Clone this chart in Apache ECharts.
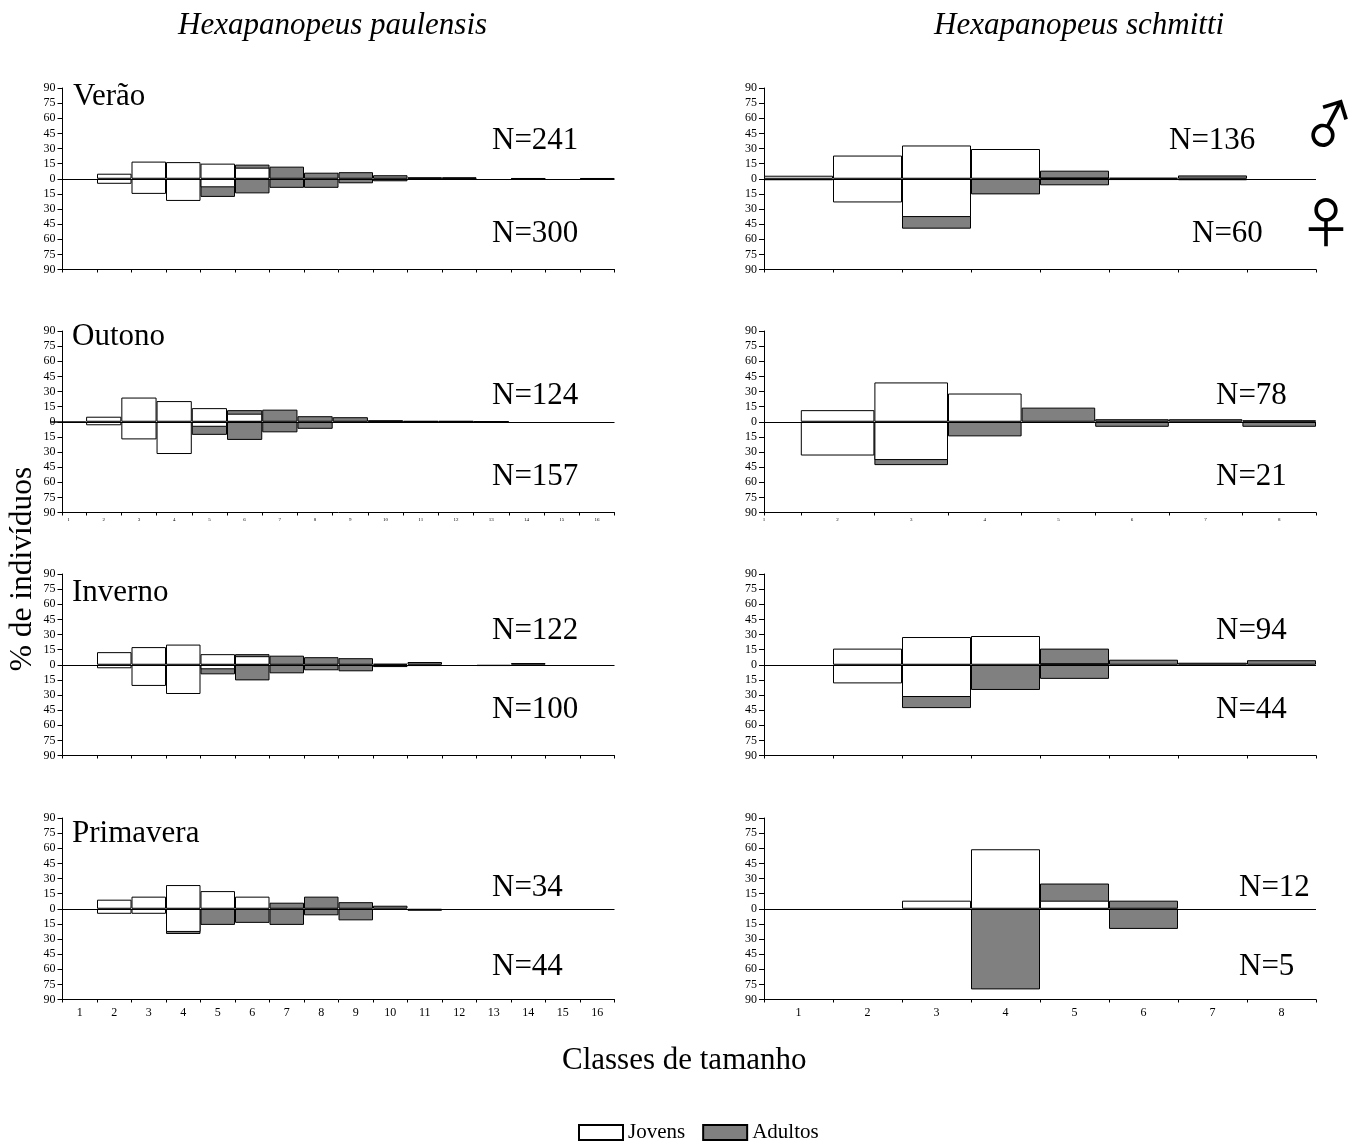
<!DOCTYPE html>
<html><head><meta charset="utf-8">
<style>html,body{margin:0;padding:0;background:#fff}#c{width:1358px;height:1144px}</style>
<script src="https://cdn.jsdelivr.net/npm/echarts@6/dist/echarts.min.js"></script>
</head><body><div id="c"></div>
<script>
// Values: % of individuals per size class; males (up) and females (down), juveniles and adults.
// Hexapanopeus paulensis (classes 1-16)
const pVeraoJM = [0,5,17,16.5,15,11,0,0,0,0,0,0,0,0,0,0];
const pVeraoAM = [0,0,0,0,0,3,12,6,6.5,3.5,1.5,1.5,0,0.5,0,0.5];
const pVeraoJF = [0,5,15,22,8.5,0,0,0,0,0,0,0,0,0,0,0];
const pVeraoAF = [0,0,0,0,9.5,14.5,9,9,4.5,2.5,0.3,0.3,0,0,0,0];
const pOutonoJM = [0,5,24,20.5,13.5,8,0,0,0,0,0,0,0,0,0,0];
const pOutonoAM = [0,0,0,0,0,3.5,12,5.5,4.5,1.5,0.8,0.8,0.3,0,0,0];
const pOutonoJF = [0.5,3.5,17.5,32,5,0,0,0,0,0,0,0,0,0,0,0];
const pOutonoAF = [0,0,0,0,8,18,10.5,7,1,0.3,0.3,0.2,0,0,0,0];
const pInvernoJM = [0,12.5,17.5,20,10.5,8.5,0,0,0,0,0,0,0,0,0,0];
const pInvernoAM = [0,0,0,0,0,2,9,7.5,6.5,1,2.7,0,0,1.7,0,0];
const pInvernoJF = [0,3.5,21,29,4.5,0,0,0,0,0,0,0,0,0,0,0];
const pInvernoAF = [0,0,0,0,5,15.5,8.5,5.5,6.5,2.3,1.3,0,1.3,0,0,0];
const pPrimaveraJM = [0,9,12,23.5,17.5,12,0,0,0,0,0,0,0,0,0,0];
const pPrimaveraAM = [0,0,0,0,0,0,6,12,6.5,3,0,0,0,0,0,0];
const pPrimaveraJF = [0,5,5,23,0,0,0,0,0,0,0,0,0,0,0,0];
const pPrimaveraAF = [0,0,0,2,16,14,16,6.5,11.5,0,2,0,0,0,0,0];
// Hexapanopeus schmitti (classes 1-8)
const sVeraoJM = [3,23,33,29.5,1,0,0,0];
const sVeraoAM = [0,0,0,0,7,1,3.3,0];
const sVeraoJF = [1.5,23.5,38,0,0,0,0,0];
const sVeraoAF = [0,0,11.5,15.5,6.5,1.3,1.5,0];
const sOutonoJM = [0,11.5,39,28,0,0,0,0];
const sOutonoAM = [0,0,0,0,14,2.5,2.5,1.5];
const sOutonoJF = [0,33.5,38,0,0,0,0,0];
const sOutonoAF = [0,0,5,14.5,0,5,0,5];
const sInvernoJM = [0,16,27.5,28.5,1.5,0,0,0];
const sInvernoAM = [0,0,0,0,14.5,5,2,4.5];
const sInvernoJF = [0,18.5,32,0,0,0,0,0];
const sInvernoAF = [0,0,11,25,14,0,0,0];
const sPrimaveraJM = [0,0,8,59,8,0,0,0];
const sPrimaveraAM = [0,0,0,0,17,8,0,0];
const sPrimaveraJF = [0,0,0,0,0,0,0,0];
const sPrimaveraAF = [0,0,0,80,0,20,0,0];

const panels = [
 {col:0,row:0,d:[pVeraoJM,pVeraoAM,pVeraoJF,pVeraoAF],min:0.5,max:16.5,lab:0},
 {col:0,row:1,d:[pOutonoJM,pOutonoAM,pOutonoJF,pOutonoAF],min:0.83,max:16.5,lab:5},
 {col:0,row:2,d:[pInvernoJM,pInvernoAM,pInvernoJF,pInvernoAF],min:0.5,max:16.5,lab:0},
 {col:0,row:3,d:[pPrimaveraJM,pPrimaveraAM,pPrimaveraJF,pPrimaveraAF],min:0.5,max:16.5,lab:12},
 {col:1,row:0,d:[sVeraoJM,sVeraoAM,sVeraoJF,sVeraoAF],min:0.5,max:8.5,lab:0},
 {col:1,row:1,d:[sOutonoJM,sOutonoAM,sOutonoJF,sOutonoAF],min:1,max:8.5,lab:5},
 {col:1,row:2,d:[sInvernoJM,sInvernoAM,sInvernoJF,sInvernoAF],min:0.5,max:8.5,lab:0},
 {col:1,row:3,d:[sPrimaveraJM,sPrimaveraAM,sPrimaveraJF,sPrimaveraAF],min:0.5,max:8.5,lab:12}
];
const gridLefts = [62.5,764], gridWidth = 552;
const gridTops = [88,331,574,818], gridHeight = 181.5;
const FONT = '"Liberation Serif","Times New Roman",serif';
const WHITE = '#ffffff', GRAY = '#808080';

const grid=[], xAxis=[], yAxis=[], series=[];
panels.forEach((p,i)=>{
  grid.push({left:gridLefts[p.col],top:gridTops[p.row],width:gridWidth,height:gridHeight,containLabel:false});
  const n=p.d[0].length;
  const ticks=[p.min]; for(let k=1;k<n;k++){ if(k+0.5>p.min) ticks.push(k+0.5);} ticks.push(p.max);
  const labels=[]; for(let k=1;k<=n;k++) labels.push(k);
  xAxis.push({type:'value',gridIndex:i,min:p.min,max:p.max,
    axisLine:{show:true,onZero:false,lineStyle:{color:'#000',width:1}},
    axisTick:{show:true,length:3,inside:false,customValues:ticks,lineStyle:{color:'#000',width:1}},
    axisLabel:p.lab?{show:true,customValues:labels,fontSize:p.lab,fontFamily:FONT,color:'#000',margin:p.lab>6?7:5,hideOverlap:false}:{show:false},
    splitLine:{show:false}});
  yAxis.push({type:'value',gridIndex:i,min:-90,max:90,interval:15,
    axisLine:{show:true,onZero:false,lineStyle:{color:'#000',width:1}},
    axisTick:{show:true,length:5,lineStyle:{color:'#000',width:1}},
    axisLabel:{fontSize:12,fontFamily:FONT,color:'#000',margin:7,formatter:v=>String(Math.abs(v))},
    splitLine:{show:false}});
  // Adult bars reach the total (juveniles + adults), juveniles are drawn over them from the zero line.
  const [jm,am,jf,af]=p.d;
  const bar=(name,color,values,sign)=>({type:'bar',name,xAxisIndex:i,yAxisIndex:i,barWidth:'100%',barGap:'-100%',
      itemStyle:{color,borderColor:'#000',borderWidth:1},emphasis:{disabled:true},
      data:values.map((v,k)=>[k+1,v?sign*v:null])});
  const s=[
    bar('Adultos',GRAY,am.map((v,k)=>v?v+jm[k]:0),1),
    bar('Jovens',WHITE,jm,1),
    bar('Adultos',GRAY,af.map((v,k)=>v?v+jf[k]:0),-1),
    bar('Jovens',WHITE,jf,-1)
  ];
  s[3].markLine={silent:true,symbol:'none',z:10,animation:false,label:{show:false},
      lineStyle:{color:'#000',width:1,type:'solid'},data:[{yAxis:0}]};
  series.push(...s);
});

const nLabels = [
 ['N=241',492,141],['N=300',492,234],['N=124',492,396],['N=157',492,477],
 ['N=122',492,631],['N=100',492,710],['N=34',492,888],['N=44',492,967],
 ['N=136',1169,141],['N=60',1192,234],['N=78',1216,396],['N=21',1216,477],
 ['N=94',1216,631],['N=44',1216,710],['N=12',1239,888],['N=5',1239,967]
];
const seasons = [['Verão',73,97],['Outono',72,337],['Inverno',72,593],['Primavera',72,834]];
const txt=(t,x,y,size,extra)=>({type:'text',x,y,silent:true,z:20,
  style:Object.assign({text:t,fill:'#000',font:`${size}px ${FONT}`,align:'left',verticalAlign:'middle'},extra||{})});
const graphic=[];
nLabels.forEach(a=>graphic.push(txt(a[0],a[1],a[2],31)));
seasons.forEach(a=>graphic.push(txt(a[0],a[1],a[2],31)));
graphic.push(txt('Hexapanopeus paulensis',178,26,31,{font:`italic 31px ${FONT}`}));
graphic.push(txt('Hexapanopeus schmitti',934,26,31,{font:`italic 31px ${FONT}`}));
graphic.push(txt('Classes de tamanho',562,1061,31));
graphic.push({type:'text',x:23,y:569,rotation:Math.PI/2,silent:true,z:20,
  style:{text:'% de indivíduos',fill:'#000',font:`31.5px ${FONT}`,align:'center',verticalAlign:'middle'}});
graphic.push({type:'text',x:1329,y:124,rotation:0.3,silent:true,z:20,
  style:{text:'♂',fill:'#000',font:'54px "Noto Sans CJK SC"',align:'center',verticalAlign:'middle'}});
graphic.push({type:'text',x:1326,y:222,silent:true,z:20,
  style:{text:'♀',fill:'#000',font:'54px "Noto Sans CJK SC"',align:'center',verticalAlign:'middle'}});

const chart=echarts.init(document.getElementById('c'),null,{renderer:'canvas'});
chart.setOption({animation:false,backgroundColor:'#fff',grid,xAxis,yAxis,series,graphic,
  tooltip:{show:false},
  legend:{data:['Jovens','Adultos'],icon:'rect',left:573,top:1117,itemWidth:44,itemHeight:15,itemGap:17,
    selectedMode:false,textStyle:{fontFamily:FONT,fontSize:21,color:'#000'}}
});
</script></body></html>
